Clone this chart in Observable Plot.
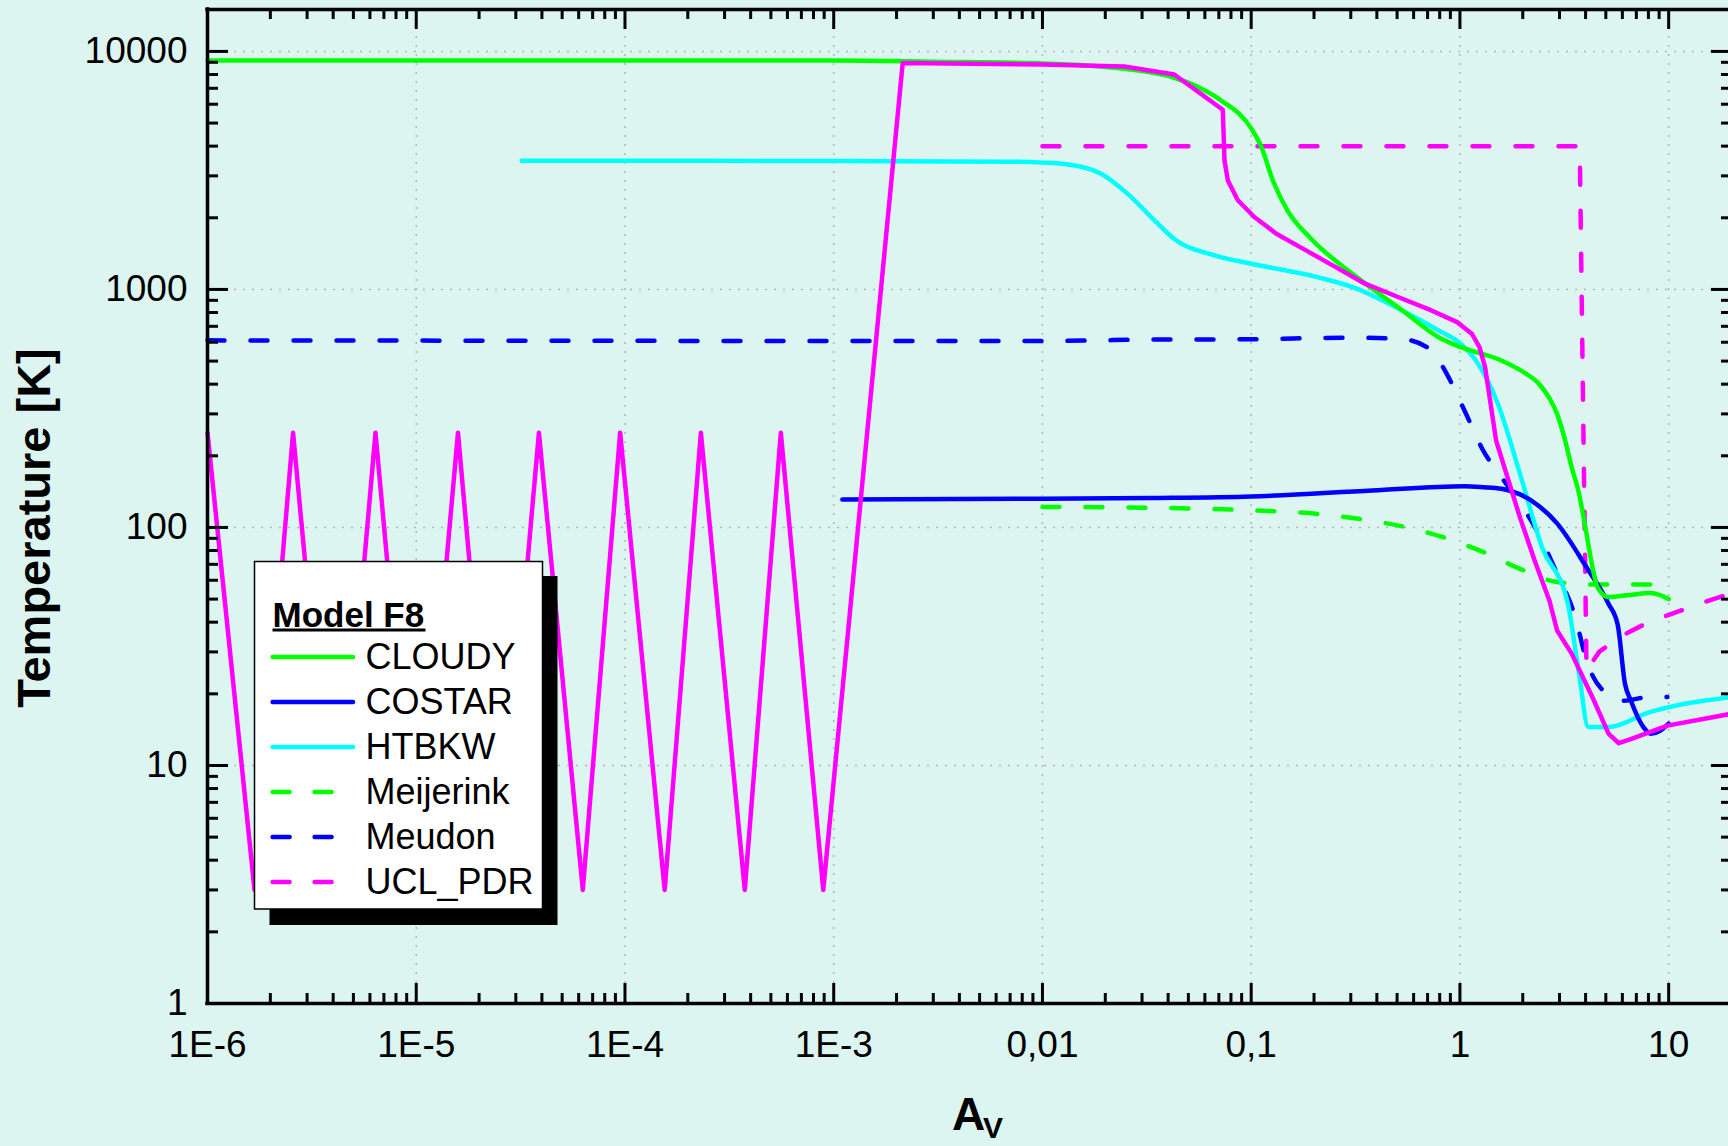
<!DOCTYPE html>
<html>
<head>
<meta charset="utf-8">
<script src="https://cdn.jsdelivr.net/npm/d3@7"></script>
<script src="https://cdn.jsdelivr.net/npm/@observablehq/plot@0.6"></script>
<style>
html, body { margin: 0; padding: 0; background: #DCF5F0; overflow: hidden; }
</style>
</head>
<body>
<div id="chart"></div>
<script>
// ---------------- DATA ----------------
const xTickValues = [1e-6, 1e-5, 1e-4, 1e-3, 1e-2, 1e-1, 1, 10];
const xTickLabels = ["1E-6", "1E-5", "1E-4", "1E-3", "0,01", "0,1", "1", "10"];
const yTickValues = [1, 10, 100, 1000, 10000];
const yTickLabels = ["1", "10", "100", "1000", "10000"];

const seriesNames = ["CLOUDY", "COSTAR", "HTBKW", "Meijerink", "Meudon", "UCL_PDR"];
const seriesColors = ["#00FF00", "#0000FF", "#00FFFF", "#00FF00", "#0000FF", "#FF00FF"];
const seriesDashed = [false, false, false, true, true, true];
const seriesSmooth = [true, true, true, true, true, false];
const legendTitle = "Model F8";
const xLabel = "A";
const xLabelSub = "V";
const yLabel = "Temperature [K]";

const cloudyA = [1e-6, 1e-3, 3e-3, 0.01, 0.0247, 0.0428, 0.0575, 0.0718, 0.1, 0.112, 0.127, 0.149, 0.19, 0.32, 0.53, 0.79, 1.01, 1.58, 2.01, 2.38, 2.69, 2.92, 3.2, 3.43, 3.72, 4.04, 4.38, 4.56, 5.15, 6.5, 8.05, 9.1, 10];
const cloudyT = [9150, 9150, 9050, 8900, 8450, 7750, 6980, 6220, 4750, 3960, 2870, 2150, 1660, 1127, 816, 630, 572, 503, 450, 403, 348, 300, 230, 179, 139, 94, 64, 56, 51, 52, 53, 52, 50];

const costarA = [1.1e-3, 0.01, 0.033, 0.1, 0.38, 1.05, 1.29, 1.58, 2.19, 2.92, 4.04, 5.15, 5.7, 6.18, 6.58, 7.57, 8.2, 9.1, 10];
const costarT = [131, 132, 133, 135, 143, 149, 147.7, 145.5, 130, 104, 68, 47.8, 39, 22, 18.8, 14.5, 13.6, 14, 15];

const htbkwA = [3.2e-5, 1e-3, 6.8e-3, 0.01, 0.0132, 0.0191, 0.0256, 0.0344, 0.0428, 0.0667, 0.1, 0.207, 0.32, 0.49, 0.79, 1.01, 1.19, 1.52, 1.94, 2.47, 3.29, 3.72, 4.12, 5.15, 8.05, 12.1, 20];
const htbkwT = [3476, 3460, 3440, 3410, 3350, 3060, 2520, 1950, 1630, 1390, 1282, 1127, 1008, 844, 673, 591, 504, 331, 168, 83, 47.8, 24.3, 14.5, 14.5, 16.7, 18.2, 19.4];

const meijerinkA = [0.01, 0.0415, 0.1, 0.207, 0.32, 0.53, 0.83, 1.29, 1.94, 2.92, 4.38, 9.3];
const meijerinkT = [122, 120.6, 118, 114, 109, 101, 91, 79, 67, 59, 57.6, 57.6];

const meudonA = [1e-6, 0.01, 0.03, 0.1, 0.3, 0.53, 0.73, 0.82, 1.05, 1.29, 1.58, 2.38, 2.92, 3.57, 4.04, 4.95, 6.07, 8.05, 9.86];
const meudonT = [611, 607, 615, 618, 627, 618, 555, 480, 311, 211, 163, 94, 64, 42, 27.6, 20.3, 18.7, 19.4, 19.4];

const uclA = [0.01, 3.75, 4.04, 4.64, 5.8, 7.75, 9.86, 14.9, 20];
const uclT = [4000, 4000, 25, 30, 34.6, 39.4, 42.7, 48.6, 53];

// unlabelled solid magenta curve
const magentaA = [1e-6, 1.68e-6, 2.57e-6, 4.11e-6, 6.38e-6, 1.01e-5, 1.585e-5, 2.48e-5, 3.87e-5, 6.28e-5, 9.48e-5, 1.55e-4, 2.31e-4, 3.75e-4, 5.58e-4, 8.91e-4, 2.14e-3, 0.01, 0.0247, 0.0428, 0.0731, 0.0745, 0.0773, 0.0863, 0.1035, 0.132, 0.183, 0.254, 0.351, 0.53, 0.73, 0.97, 1.14, 1.24, 1.32, 1.49, 1.94, 2.28, 2.69, 2.92, 3.43, 4.38, 5.15, 5.77, 6.58, 9.86, 20];
const magentaT = [250, 3, 250, 3, 250, 3, 250, 3, 250, 3, 250, 3, 250, 3, 250, 3, 8930, 8820, 8650, 8000, 5690, 3480, 2870, 2370, 2015, 1714, 1459, 1241, 1057, 914, 816, 729, 652, 573, 472, 232, 110, 72.7, 49, 36.9, 29.5, 18.8, 13.6, 12.4, 12.9, 14.7, 16.5];

// ---------------- CHART ----------------
const FONT = "'Liberation Sans', Arial, Helvetica, sans-serif";
const BG = "#DCF5F0";
const W = 1728, H = 1146;
const mL = 207, mR = 0, mT = 9, mB = 143;
const plotW = W - mL - mR, plotH = H - mT - mB;

const mk = (A, T) => A.map((a, i) => ({A: a, T: T[i]}));
const seriesData = [mk(cloudyA, cloudyT), mk(costarA, costarT), mk(htbkwA, htbkwT),
                    mk(meijerinkA, meijerinkT), mk(meudonA, meudonT), mk(uclA, uclT)];

const xMinor = [];
for (const d of xTickValues) for (let k = 2; k <= 9; k++) { const v = d * k; if (v <= 20) xMinor.push(v); }
const yMinor = [];
for (const d of yTickValues) for (let k = 2; k <= 9; k++) { const v = d * k; if (v <= 15000) yMinor.push(v); }

const DASH = "17,26";
function seriesLine(i) {
  return Plot.line(seriesData[i], {
    x: "A", y: "T", stroke: seriesColors[i], strokeWidth: 4.5,
    strokeLinejoin: "round", strokeLinecap: "round",
    curve: seriesSmooth[i] ? "monotone-x" : "linear",
    strokeDasharray: seriesDashed[i] ? DASH : null
  });
}

const gridStyle = {stroke: "#b4b4b4", strokeWidth: 1.5, strokeDasharray: "2,7"};
const tickStyle = {stroke: "black", strokeWidth: 3};

const chart = Plot.plot({
  width: W, height: H,
  marginLeft: mL, marginRight: mR, marginTop: mT, marginBottom: mB,
  style: {background: BG, fontFamily: FONT, color: "black", overflow: "hidden"},
  x: {type: "log", domain: [1e-6, 20], range: [mL, 1731]},
  y: {type: "log", domain: [1, 15000], range: [H - mB, mT]},
  marks: [
    Plot.ruleX(xTickValues.slice(1), gridStyle),
    Plot.ruleY(yTickValues.slice(1), gridStyle),
    seriesLine(3), seriesLine(4), seriesLine(5),
    seriesLine(2), seriesLine(1), seriesLine(0),
    Plot.line(mk(magentaA, magentaT), {x: "A", y: "T", stroke: "#FF00FF", strokeWidth: 4.5, strokeLinejoin: "round", strokeLinecap: "round"}),
    // frame
    Plot.ruleX([1e-6], {stroke: "black", strokeWidth: 3.5, strokeLinecap: "square"}),
    Plot.ruleY([1], {stroke: "black", strokeWidth: 3.5, strokeLinecap: "square"}),
    Plot.ruleY([15000], {stroke: "black", strokeWidth: 3.5, strokeLinecap: "square"}),
    // inward ticks: bottom, top, left, right
    Plot.ruleX(xTickValues, {...tickStyle, insetTop: plotH - 20}),
    Plot.ruleX(xMinor, {...tickStyle, insetTop: plotH - 10}),
    Plot.ruleX(xTickValues, {...tickStyle, insetBottom: plotH - 20}),
    Plot.ruleX(xMinor, {...tickStyle, insetBottom: plotH - 10}),
    Plot.ruleY(yTickValues, {...tickStyle, insetRight: plotW - 21}),
    Plot.ruleY(yMinor, {...tickStyle, insetRight: plotW - 11}),
    Plot.ruleY(yTickValues, {...tickStyle, insetLeft: plotW - 17}),
    Plot.ruleY(yMinor, {...tickStyle, insetLeft: plotW - 7}),
    // tick labels
    Plot.axisX(xTickValues, {anchor: "bottom", tickSize: 0, tickPadding: 27, fontSize: 37, label: null,
      tickFormat: d => xTickLabels[xTickValues.indexOf(d)], fill: "black"}),
    Plot.axisY(yTickValues, {anchor: "left", tickSize: 0, tickPadding: 20, fontSize: 37, label: null,
      tickFormat: d => yTickLabels[yTickValues.indexOf(d)], fill: "black"})
  ]
});

const svg = d3.select(chart);
// ---------------- AXIS TITLES ----------------
svg.append("text").attr("transform", "translate(49.7,528) rotate(-90)")
  .attr("text-anchor", "middle").attr("font-family", FONT).attr("font-size", 47)
  .attr("font-weight", "bold").attr("fill", "black").text(yLabel);
svg.append("text").attr("x", 968.5).attr("y", 1130).attr("text-anchor", "middle")
  .attr("font-family", FONT).attr("font-size", 46).attr("font-weight", "bold").attr("fill", "black").text(xLabel);
svg.append("text").attr("x", 993).attr("y", 1138).attr("text-anchor", "middle")
  .attr("font-family", FONT).attr("font-size", 30).attr("font-weight", "bold").attr("fill", "black").text(xLabelSub);

// ---------------- LEGEND ----------------
const g = svg.append("g").attr("font-family", FONT).attr("text-anchor", "start");
g.append("rect").attr("x", 269.5).attr("y", 576).attr("width", 288).attr("height", 349).attr("fill", "black");
g.append("rect").attr("x", 254.5).attr("y", 561.5).attr("width", 288).attr("height", 347.5)
  .attr("fill", "white").attr("stroke", "black").attr("stroke-width", 1.5);
g.append("text").attr("x", 272.5).attr("y", 626.7).attr("font-size", 35).attr("font-weight", "bold")
  .attr("text-anchor", "start").attr("fill", "black").text(legendTitle);
g.append("rect").attr("x", 272.5).attr("y", 628.5).attr("width", 153).attr("height", 3).attr("fill", "black");
seriesNames.forEach((name, i) => {
  const yy = 657 + 45 * i;
  g.append("line").attr("x1", 272.6).attr("x2", seriesDashed[i] ? 355 : 353).attr("y1", yy).attr("y2", yy)
    .attr("stroke", seriesColors[i]).attr("stroke-width", 4.5).attr("stroke-linecap", "round")
    .attr("stroke-dasharray", seriesDashed[i] ? "17,25" : null);
  g.append("text").attr("x", 365.5).attr("y", yy + 12.3).attr("font-size", 36)
    .attr("text-anchor", "start").attr("fill", "black").text(name);
});

document.getElementById("chart").appendChild(chart);
</script>
</body>
</html>
